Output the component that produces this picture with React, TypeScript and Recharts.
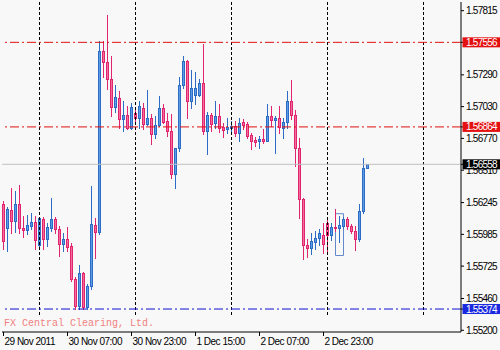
import React from 'react';
import { ComposedChart, Bar, XAxis, YAxis, ReferenceLine, ReferenceArea } from 'recharts';

// ---- data (hourly bars) ----
const OPEN = [
  1.56231, 1.56035, 1.56182, 1.56092, 1.56231, 1.56035, 1.56019, 1.56052, 1.56084, 1.55896,
  1.56109, 1.55945, 1.56035, 1.56109, 1.56027, 1.55905, 1.55945, 1.55888, 1.55619, 1.55398,
  1.55668, 1.5539, 1.55562, 1.5606, 1.56003, 1.57488, 1.57399, 1.5726, 1.57023, 1.57097,
  1.56925, 1.56958, 1.56852, 1.56974, 1.56933, 1.57015, 1.56884, 1.56933, 1.56803, 1.56876,
  1.57015, 1.56909, 1.56827, 1.56476, 1.56688, 1.57203, 1.57407, 1.5708, 1.57129, 1.57129,
  1.57227, 1.56827, 1.56958, 1.56892, 1.5695, 1.5686, 1.56844, 1.56852, 1.56868, 1.56811,
  1.56901, 1.56884, 1.56795, 1.56754, 1.56746, 1.56762, 1.56746, 1.5695, 1.56917, 1.56933,
  1.56852, 1.56901, 1.57072, 1.56958, 1.56688, 1.56272, 1.55896, 1.55872, 1.55921, 1.55954,
  1.55978, 1.56076, 1.55978, 1.56043, 1.56035, 1.56052, 1.56109, 1.56052, 1.56011, 1.55945,
  1.56174, 1.56525,
];
const HIGH = [
  1.56256, 1.56207, 1.56362, 1.56337, 1.56386, 1.56133, 1.56141, 1.56158, 1.56133, 1.56125,
  1.56125, 1.56076, 1.5628, 1.56125, 1.56052, 1.55994, 1.56043, 1.55913, 1.55635, 1.55733,
  1.55676, 1.55578, 1.56378, 1.56117, 1.5757, 1.5757, 1.57782, 1.57448, 1.57211, 1.57154,
  1.5708, 1.57039, 1.57056, 1.57015, 1.57072, 1.57056, 1.5717, 1.56966, 1.5695, 1.57113,
  1.57048, 1.56974, 1.56966, 1.56688, 1.57276, 1.57448, 1.57415, 1.57333, 1.57317, 1.57252,
  1.57546, 1.5699, 1.56974, 1.57072, 1.57048, 1.56892, 1.56933, 1.56909, 1.56909, 1.56933,
  1.56925, 1.56901, 1.56811, 1.56778, 1.56786, 1.56844, 1.57048, 1.57031, 1.5695, 1.57031,
  1.56933, 1.57154, 1.57244, 1.56999, 1.5677, 1.5628, 1.55945, 1.55994, 1.56011, 1.56027,
  1.56076, 1.56117, 1.56076, 1.5619, 1.56133, 1.56125, 1.56125, 1.56068, 1.56052, 1.56231,
  1.56607, 1.56558,
];
const LOW = [
  1.55864, 1.55847, 1.55994, 1.56003, 1.55994, 1.55962, 1.55986, 1.56027, 1.55864, 1.55864,
  1.55864, 1.55888, 1.56011, 1.55994, 1.55807, 1.55847, 1.55847, 1.55603, 1.55374, 1.55374,
  1.55374, 1.55374, 1.55537, 1.5579, 1.55986, 1.57276, 1.57178, 1.5695, 1.5699, 1.56852,
  1.56827, 1.56844, 1.56844, 1.56909, 1.56852, 1.56844, 1.56876, 1.56721, 1.5677, 1.56868,
  1.56892, 1.56786, 1.56443, 1.56362, 1.56664, 1.57186, 1.56933, 1.57015, 1.57048, 1.57113,
  1.56803, 1.56639, 1.56827, 1.56852, 1.56819, 1.56778, 1.56811, 1.56827, 1.56786, 1.56746,
  1.56844, 1.5677, 1.5668, 1.56705, 1.56688, 1.56729, 1.56746, 1.56868, 1.56648, 1.56811,
  1.5677, 1.56852, 1.56925, 1.56541, 1.56117, 1.55782, 1.55798, 1.55823, 1.55864, 1.55896,
  1.55831, 1.55839, 1.55937, 1.56011, 1.55921, 1.56035, 1.56027, 1.55994, 1.55856, 1.55929,
  1.56158, 1.56525,
];
const CLOSE = [
  1.55929, 1.5619, 1.56092, 1.56231, 1.56035, 1.56019, 1.5606, 1.56084, 1.55937, 1.56117,
  1.55945, 1.56043, 1.56109, 1.56027, 1.55905, 1.55945, 1.5588, 1.55619, 1.55398, 1.55668,
  1.5539, 1.55562, 1.56068, 1.56003, 1.57488, 1.57399, 1.5726, 1.57023, 1.57105, 1.56925,
  1.56958, 1.56852, 1.57023, 1.56933, 1.57031, 1.56884, 1.56933, 1.56803, 1.56876, 1.57015,
  1.56901, 1.56827, 1.56476, 1.56688, 1.57203, 1.57407, 1.5708, 1.57186, 1.57186, 1.57227,
  1.56827, 1.56958, 1.56884, 1.5695, 1.56852, 1.56835, 1.5686, 1.56868, 1.56811, 1.56892,
  1.56876, 1.56786, 1.56746, 1.56737, 1.56762, 1.56746, 1.5695, 1.56917, 1.56933, 1.5686,
  1.56901, 1.57072, 1.56958, 1.56688, 1.56272, 1.55896, 1.55872, 1.55929, 1.55954, 1.55994,
  1.55905, 1.55978, 1.56043, 1.56035, 1.5606, 1.56109, 1.56052, 1.56011, 1.55945, 1.56174,
  1.56525, 1.56558,
];

const TIME_LABELS = ['29 Nov 2011', '30 Nov 07:00', '30 Nov 23:00', '1 Dec 15:00', '2 Dec 07:00', '2 Dec 23:00'];
const TIME_LABEL_BARS = [0, 16, 32, 48, 64, 80];
const DAY_SEPARATOR_BARS = [9, 33, 57, 81, 105];
const PRICE_TICKS = [1.57815, 1.5729, 1.5703, 1.5677, 1.5651, 1.56245, 1.55985, 1.55725, 1.5546, 1.552];
const RED_LEVEL_HIGH = 1.57556;
const RED_LEVEL_LOW = 1.56864;
const BLUE_LEVEL = 1.55374;
const BID = 1.56558;
const TAG_LEVELS = [RED_LEVEL_HIGH, RED_LEVEL_LOW, BID, BLUE_LEVEL];
const TAG_COLORS = ['#e41010', '#e41010', '#000000', '#1a28e0'];
const BOX_BARS = [83, 85];
const BOX_PRICES = [1.55812, 1.56154];
const WATERMARK = 'FX Central Clearing, Ltd.';

// ---- layout config ----
const X_DOMAIN: [number, number] = [-0.375, 114.375];
const Y_DOMAIN: [number, number] = [1.55186, 1.57886];
const GRID_BOTTOM = 1.55322;
const FONT = 'Liberation Sans, Arial, sans-serif';
const BG = '#f8f8f8';

const data = OPEN.map((o, i) => ({ bar: i, open: o, high: HIGH[i], low: LOW[i], close: CLOSE[i] }));

const Candle = (props: any) => {
  const { x, y, width, height, payload } = props;
  if (x == null || y == null || !payload) return null;
  const top = Math.min(y, y + height);
  const h = Math.abs(height);
  const { open, high, low, close } = payload;
  const range = high - low;
  const toY = (v: number) => (range > 0 ? top + ((high - v) / range) * h : top);
  const cx = Math.round(x + width / 2 - 0.5) + 0.5;
  const bull = close >= open;
  const line = bull ? '#2c6cc4' : '#e0246e';
  const fill = bull ? '#5c9ce4' : '#f36d9c';
  const yo = toY(open);
  const yc = toY(close);
  const bt = Math.round(Math.min(yo, yc));
  const bb = Math.round(Math.max(yo, yc));
  return (
    <g>
      <line x1={cx} x2={cx} y1={Math.round(top)} y2={Math.round(top + h) + 1} stroke={line} strokeWidth={1} />
      <rect x={cx - 1} y={bt + 0.5} width={2} height={Math.max(bb - bt, 1)} fill={fill} stroke={line} strokeWidth={1} />
    </g>
  );
};

const TimeTick = (props: any) => {
  const { x, y, payload } = props;
  const i = TIME_LABEL_BARS.indexOf(payload.value);
  return (
    <text x={x + 1} y={y} dy={7} fill="#000" fontSize={10} fontFamily={FONT} letterSpacing={-0.5} textAnchor="start">
      {TIME_LABELS[i]}
    </text>
  );
};

// Price axis tick: plain labels, and coloured tags for marked levels (drawn last so they sit on top)
const PriceTick = (props: any) => {
  const { x, y, payload } = props;
  const v = Number(payload.value);
  const t = TAG_LEVELS.indexOf(v);
  if (t >= 0) {
    return (
      <g>
        <rect x={x - 3.5} y={y - 5} width={38} height={10} fill={TAG_COLORS[t]} />
        <text x={x} y={y} dy="0.355em" fill="#ffffff" fontSize={10} fontFamily={FONT} letterSpacing={-0.75} textAnchor="start">
          {v.toFixed(5)}
        </text>
      </g>
    );
  }
  return (
    <text x={x} y={y} dy="0.355em" fill="#000" fontSize={10} fontFamily={FONT} letterSpacing={-0.75} textAnchor="start">
      {v.toFixed(5)}
    </text>
  );
};

export default function App() {
  return (
    <div style={{ position: 'absolute', left: 0, top: 0, width: 500, height: 350, background: BG }}>
      <ComposedChart width={500} height={350} data={data} margin={{ top: 2, right: 0, bottom: 0, left: 2 }}>
        <XAxis
          dataKey="bar"
          type="number"
          domain={X_DOMAIN}
          allowDataOverflow
          ticks={TIME_LABEL_BARS}
          tick={<TimeTick />}
          tickSize={4}
          tickMargin={2}
          height={18}
          axisLine={{ stroke: '#000' }}
          tickLine={{ stroke: '#000' }}
          interval={0}
        />
        <XAxis xAxisId="top" orientation="top" dataKey="bar" type="number" domain={X_DOMAIN} height={0} tick={false} tickLine={false} axisLine={{ stroke: '#000' }} />
        <YAxis
          orientation="right"
          type="number"
          domain={Y_DOMAIN}
          allowDataOverflow
          ticks={[...PRICE_TICKS, ...TAG_LEVELS]}
          tick={<PriceTick />}
          tickSize={3}
          tickMargin={2}
          width={39}
          axisLine={{ stroke: '#000' }}
          tickLine={{ stroke: '#000' }}
          interval={0}
        />
        <YAxis yAxisId="left" orientation="left" type="number" domain={Y_DOMAIN} width={0} tick={false} tickLine={false} axisLine={{ stroke: '#000' }} />

        {DAY_SEPARATOR_BARS.map((b) => (
          <ReferenceLine
            key={'sep' + b}
            segment={[{ x: b, y: Y_DOMAIN[1] }, { x: b, y: GRID_BOTTOM }]}
            stroke="#000"
            strokeDasharray="3 2"
            ifOverflow="visible"
          />
        ))}

        <ReferenceLine y={BID} stroke="#c0c0c0" strokeWidth={1} />
        <ReferenceLine y={RED_LEVEL_HIGH} stroke="#e01010" strokeDasharray="9 3 2 3" />
        <ReferenceLine y={RED_LEVEL_LOW} stroke="#e01010" strokeDasharray="9 3 2 3" />
        <ReferenceLine y={BLUE_LEVEL} stroke="#1010d0" strokeDasharray="9 3 2 3" />

        <ReferenceArea x1={BOX_BARS[0]} x2={BOX_BARS[1]} y1={BOX_PRICES[0]} y2={BOX_PRICES[1]} fill="none" fillOpacity={0} stroke="#6488cc" strokeWidth={1} />

        <Bar dataKey={(d: any) => [d.low, d.high]} barSize={3} shape={<Candle />} isAnimationActive={false} />
      </ComposedChart>
      <div
        style={{
          position: 'absolute',
          left: 4,
          top: 318,
          fontFamily: 'Liberation Mono, monospace',
          fontSize: 10,
          lineHeight: '12px',
          color: '#f08080',
          whiteSpace: 'pre',
        }}
      >
        {WATERMARK}
      </div>
    </div>
  );
}
